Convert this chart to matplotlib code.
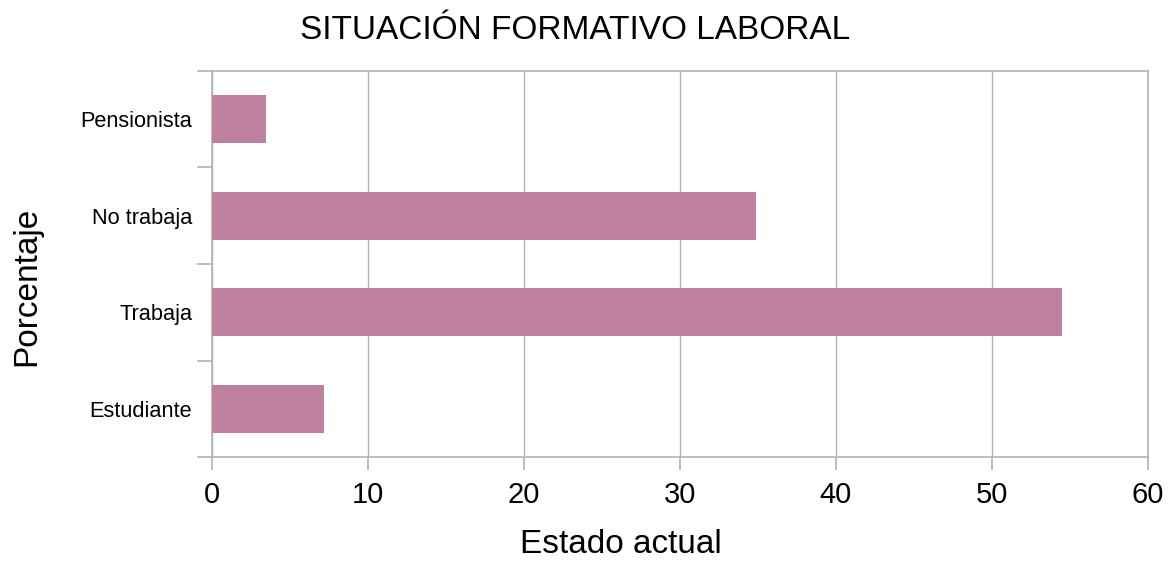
import matplotlib
matplotlib.use("Agg")
import matplotlib.pyplot as plt
import numpy as np

# situación actual de los encuestados (%)
categorias = ["Estudiante", "Trabaja", "No trabaja", "Pensionista"]
porcentajes = [7.2, 54.5, 34.9, 3.5]
xticks = [0, 10, 20, 30, 40, 50, 60]

plt.rcParams["font.family"] = ["Liberation Sans", "DejaVu Sans"]

gris = "#b3b3b3"
color_barra = "#c0809f"

fig = plt.figure(figsize=(11.72, 5.62), dpi=100)
ax = fig.add_axes([0.1806, 0.1868, 0.7989, 0.6869])

pos = np.arange(len(categorias))
ax.barh(pos, porcentajes, height=0.5, color=color_barra, zorder=3)

ax.set_xlim(0, 60)
ax.set_ylim(-0.5, len(categorias) - 0.5)
ax.set_xticks(xticks)
ax.set_xticklabels([str(t) for t in xticks], fontsize=21)
ax.set_yticks(pos)
ax.set_yticklabels(categorias, fontsize=15.7)
ax.tick_params(axis="y", length=0, pad=14)
ax.tick_params(axis="x", length=9, color=gris, width=1.2, pad=8)

# marcas entre categorías en el eje vertical
ax.set_yticks(np.arange(-0.5, len(categorias), 1), minor=True)
ax.tick_params(axis="y", which="minor", length=11, color=gris, width=1.2)

ax.grid(axis="x", color=gris, linewidth=1.0, zorder=0)
for s in ax.spines.values():
    s.set_color(gris)
    s.set_linewidth(1.2)

fig.text(0.491, 0.945, "SITUACIÓN FORMATIVO LABORAL", fontsize=24, ha="center", va="center")
fig.text(0.53, 0.032, "Estado actual", fontsize=24, ha="center", va="center")
fig.text(0.023, 0.49, "Porcentaje", fontsize=24, ha="center", va="center", rotation=90)

fig.savefig("out.png", dpi=100)
